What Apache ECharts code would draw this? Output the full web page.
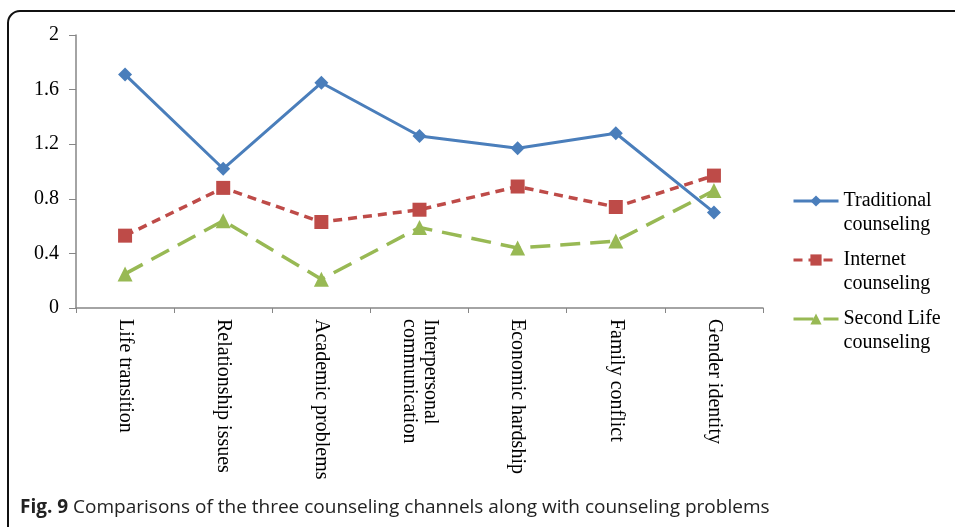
<!DOCTYPE html>
<html lang="en">
<head>
    <meta charset="UTF-8">
    <title>Fig. 9 counseling channels</title>
    <style>
        html, body { margin: 0; padding: 0; background: #fff; }
        #chart { width: 955px; height: 527px; }
    </style>
</head>
<body>
    <div id="chart"></div>
    <script src="https://cdn.jsdelivr.net/npm/echarts@6/dist/echarts.min.js"></script>
    <script type="text/javascript">
        // categories along the x axis
        var problems = ['Life transition', 'Relationship issues', 'Academic problems',
            'Interpersonal\ncommunication', 'Economic hardship', 'Family conflict', 'Gender identity']

        // values
        var traditional = [1.71, 1.02, 1.65, 1.26, 1.17, 1.28, 0.70]
        var internet = [0.53, 0.88, 0.63, 0.72, 0.89, 0.74, 0.97]
        var secondLife = [0.25, 0.64, 0.21, 0.59, 0.44, 0.49, 0.86]

        var seriesNames = ['Traditional\ncounseling', 'Internet\ncounseling', 'Second Life\ncounseling']
        var yTicks = [0, 0.4, 0.8, 1.2, 1.6, 2]

        var serif = '"Liberation Serif", "Times New Roman", serif'

        var chart = echarts.init(document.getElementById('chart'))

        var option = {
            backgroundColor: '#fff',
            animation: false,
            grid: {
                left: 76,
                right: 192,
                top: 35,
                bottom: 219,
                containLabel: false,
                outerBoundsMode: 'none'
            },
            legend: {
                orient: 'vertical',
                left: 787,
                top: 160,
                itemWidth: 45,
                itemHeight: 14,
                itemGap: -13,
                data: seriesNames,
                lineStyle: { width: 3 },
                // blank first line so the icon sits level with the first text line
                formatter: function (name) {
                    return ' \n' + name
                },
                textStyle: {
                    fontFamily: serif,
                    fontSize: 20,
                    color: '#000',
                    lineHeight: 24
                }
            },
            xAxis: {
                type: 'category',
                data: problems,
                boundaryGap: true,
                axisLine: { lineStyle: { color: '#868686', width: 1.5 } },
                axisTick: { show: true, length: 5, lineStyle: { color: '#868686' } },
                axisLabel: {
                    rotate: -90,
                    margin: 11,
                    interval: 0,
                    fontFamily: serif,
                    fontSize: 20,
                    color: '#000',
                    lineHeight: 21
                }
            },
            yAxis: {
                type: 'value',
                min: 0,
                max: 2,
                interval: 0.4,
                axisLine: { show: true, lineStyle: { color: '#868686', width: 1.5 } },
                axisTick: { show: true, length: 7, lineStyle: { color: '#868686' } },
                splitLine: { show: false },
                axisLabel: {
                    margin: 17,
                    fontFamily: serif,
                    fontSize: 20,
                    color: '#000',
                    formatter: function (v) {
                        return yTicks.indexOf(+v.toFixed(1)) >= 0 ? String(+v.toFixed(1)) : ''
                    }
                }
            },
            series: [{
                name: seriesNames[0],
                type: 'line',
                data: traditional,
                symbol: 'diamond',
                symbolSize: 14,
                lineStyle: { color: '#4A7EBB', width: 3 },
                itemStyle: { color: '#4A7EBB' }
            }, {
                name: seriesNames[1],
                type: 'line',
                data: internet,
                symbol: 'rect',
                symbolSize: 14,
                lineStyle: { color: '#BE4B48', width: 3.5, type: [9, 6] },
                itemStyle: { color: '#BE4B48' }
            }, {
                name: seriesNames[2],
                type: 'line',
                data: secondLife,
                symbol: 'triangle',
                symbolSize: 15,
                lineStyle: { color: '#98B954', width: 3.5, type: [20, 10] },
                itemStyle: { color: '#98B954' }
            }],
            graphic: [{
                type: 'rect',
                shape: { x: 8, y: 11, width: 1100, height: 700, r: 12 },
                style: { fill: 'none', stroke: '#111', lineWidth: 2 },
                silent: true
            }, {
                type: 'text',
                left: 20,
                top: 498,
                style: {
                    text: '{b|Fig. 9} Comparisons of the three counseling channels along with counseling problems',
                    fontFamily: '"Open Sans", "Noto Sans", sans-serif',
                    fontSize: 19,
                    fill: '#222',
                    rich: {
                        b: {
                            fontFamily: '"Open Sans", "Noto Sans", sans-serif',
                            fontWeight: 'bold',
                            fontSize: 19,
                            fill: '#222'
                        }
                    }
                }
            }]
        }

        chart.setOption(option)
    </script>
</body>
</html>
